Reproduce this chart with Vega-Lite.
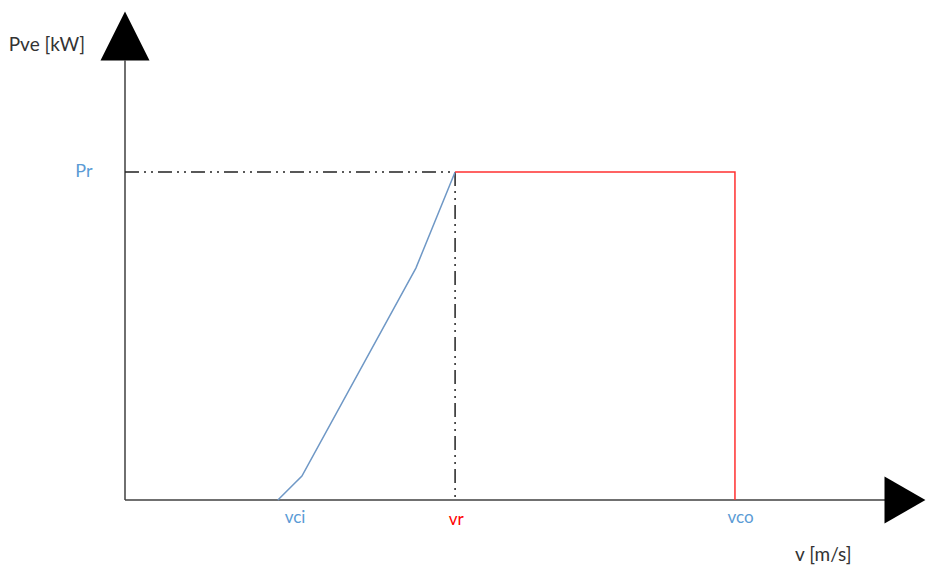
{
  "$schema": "https://vega.github.io/schema/vega-lite/v6.json",
  "width": 926,
  "height": 566,
  "padding": 0,
  "autosize": {"type": "none"},
  "background": "white",
  "config": {"view": {"stroke": null}},
  "datasets": {
    "axes": [
      {"v": 0, "P": 0, "v2": 27.65, "P2": 0},
      {"v": 0, "P": 0, "v2": 0, "P2": 134}
    ],
    "guides": [
      {"v": 0, "P": 100, "v2": 11.96, "P2": 100},
      {"v": 11.96, "P": 100, "v2": 11.96, "P2": 0}
    ],
    "curve": [
      {"v": 5.54, "P": 0},
      {"v": 6.41, "P": 7.3},
      {"v": 10.54, "P": 70.7},
      {"v": 11.96, "P": 100}
    ],
    "rated": [
      {"v": 11.96, "P": 100, "o": 1},
      {"v": 22.1, "P": 100, "o": 2},
      {"v": 22.1, "P": 0, "o": 3}
    ],
    "labels": [
      {"v": -2.83, "P": 138.7, "t": "Pve [kW]", "c": "dark", "s": 19},
      {"v": -1.49, "P": 100, "t": "Pr", "c": "blue", "s": 18},
      {"v": 6.16, "P": -5.5, "t": "vci", "c": "blue", "s": 17},
      {"v": 12.0, "P": -6.0, "t": "vr", "c": "red", "s": 17},
      {"v": 22.3, "P": -5.5, "t": "vco", "c": "blue", "s": 17},
      {"v": 25.3, "P": -16.8, "t": "v [m/s]", "c": "dark", "s": 19}
    ],
    "arrows": [
      {"v": 0, "P": 141.5, "dir": "up"},
      {"v": 28.26, "P": 0, "dir": "right"}
    ]
  },
  "layer": [
    {
      "data": {"name": "axes"},
      "mark": {"type": "rule", "color": "#404040", "strokeWidth": 1.5},
      "encoding": {
        "x": {"field": "v", "type": "quantitative", "scale": {"domain": [-4.529, 29.022], "nice": false, "zero": false}, "axis": null},
        "y": {"field": "P", "type": "quantitative", "scale": {"domain": [-20.12, 152.44], "nice": false, "zero": false}, "axis": null},
        "x2": {"field": "v2"},
        "y2": {"field": "P2"}
      }
    },
    {
      "data": {"name": "guides"},
      "mark": {"type": "rule", "color": "#222222", "strokeWidth": 1.5, "strokeDash": [14, 5, 2, 5, 2, 5]},
      "encoding": {
        "x": {"field": "v", "type": "quantitative"},
        "y": {"field": "P", "type": "quantitative"},
        "x2": {"field": "v2"},
        "y2": {"field": "P2"}
      }
    },
    {
      "data": {"name": "curve"},
      "mark": {"type": "line", "color": "#6f98c6", "strokeWidth": 1.5},
      "encoding": {
        "x": {"field": "v", "type": "quantitative"},
        "y": {"field": "P", "type": "quantitative"}
      }
    },
    {
      "data": {"name": "rated"},
      "mark": {"type": "line", "color": "#ff3030", "strokeWidth": 1.5},
      "encoding": {
        "x": {"field": "v", "type": "quantitative"},
        "y": {"field": "P", "type": "quantitative"},
        "order": {"field": "o", "type": "quantitative"}
      }
    },
    {
      "data": {"name": "arrows"},
      "transform": [{"filter": "datum.dir === 'up'"}],
      "mark": {"type": "point", "shape": "M0,-1L1,1L-1,1Z", "size": 2401, "filled": true, "color": "black", "opacity": 1},
      "encoding": {
        "x": {"field": "v", "type": "quantitative"},
        "y": {"field": "P", "type": "quantitative"}
      }
    },
    {
      "data": {"name": "arrows"},
      "transform": [{"filter": "datum.dir === 'right'"}],
      "mark": {"type": "point", "shape": "M-0.87,-1L0.87,0L-0.87,1Z", "size": 2209, "filled": true, "color": "black", "opacity": 1},
      "encoding": {
        "x": {"field": "v", "type": "quantitative"},
        "y": {"field": "P", "type": "quantitative"}
      }
    },
    {
      "data": {"name": "labels"},
      "mark": {"type": "text", "font": "Lato", "align": "center", "baseline": "middle"},
      "encoding": {
        "x": {"field": "v", "type": "quantitative"},
        "y": {"field": "P", "type": "quantitative"},
        "text": {"field": "t"},
        "size": {"field": "s", "type": "quantitative", "scale": null},
        "color": {"field": "c", "type": "nominal", "scale": {"domain": ["dark", "blue", "red"], "range": ["#333333", "#5b9bd5", "#ff0000"]}, "legend": null}
      }
    }
  ]
}
